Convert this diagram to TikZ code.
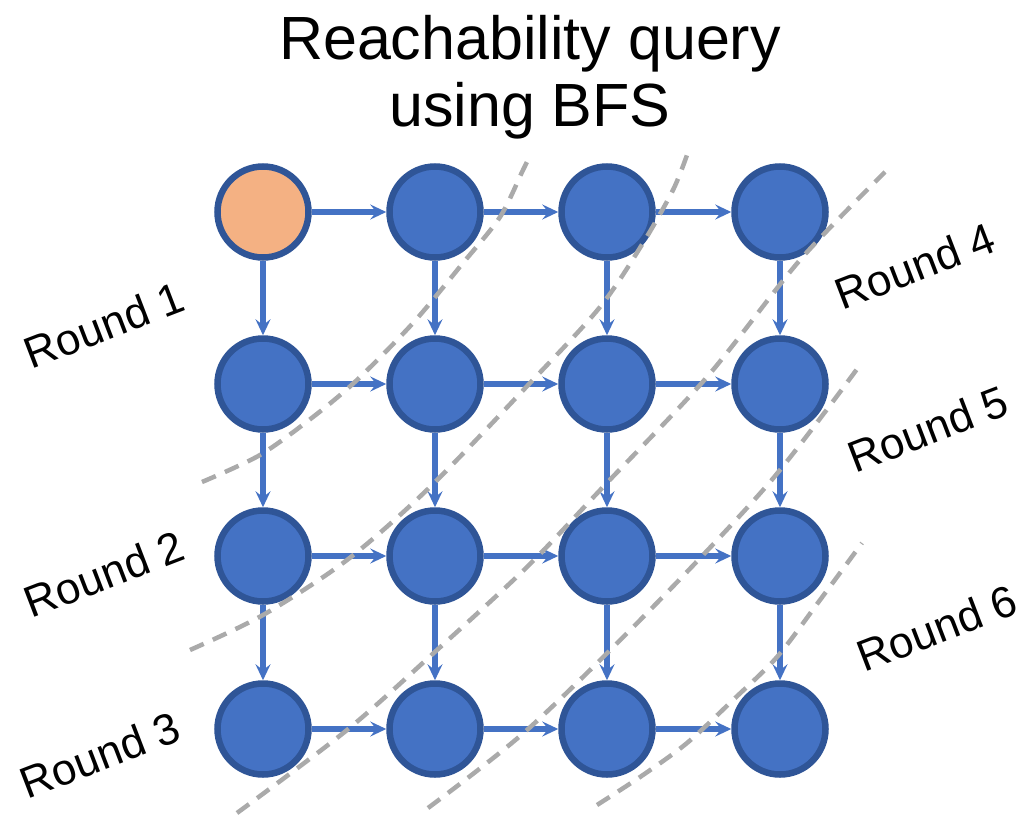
\documentclass[tikz,border=0pt]{standalone}
\usepackage{fontspec}
\setmainfont{Liberation Sans}
\usetikzlibrary{arrows.meta}
\definecolor{nodefill}{HTML}{4472C4}
\definecolor{nodeline}{HTML}{2F5597}
\definecolor{srcfill}{HTML}{F4B183}
\definecolor{edgecol}{HTML}{4472C4}
\definecolor{dashcol}{HTML}{AAAAAA}
\begin{document}
\begin{tikzpicture}[x=1pt,y=-1pt,
  vertex/.style={circle, draw=nodeline, fill=nodefill, line width=6.5pt, minimum size=91pt, inner sep=0pt},
  source/.style={vertex, fill=srcfill},
  edge/.style={draw=edgecol, line width=5.5pt, -{Stealth[length=16pt,width=15pt,inset=6pt]}},
  boundary/.style={draw=dashcol, line width=4.5pt, dash pattern=on 15pt off 10pt},
  roundlabel/.style={font=\fontsize{44}{50}\selectfont, rotate=21, inner sep=0pt},
  titlelabel/.style={font=\fontsize{61}{67}\selectfont, align=center, inner sep=0pt}
]
\useasboundingbox (0,0) rectangle (1030,814);
\node[titlelabel] (title) at (530,77) {Reachability query\\using BFS};

% vertices
\foreach \r/\y in {1/212,2/384,3/556,4/729}{
  \foreach \c/\x in {1/263,2/435,3/607,4/780}{
    \ifnum\r\c=11
      \node[source] (n\r\c) at (\x,\y) {};
    \else
      \node[vertex] (n\r\c) at (\x,\y) {};
    \fi
  }
}

% edges
\foreach \r in {1,2,3,4}{
  \foreach \c/\d in {1/2,2/3,3/4}{
    \draw[edge] (n\r\c) -- (n\r\d);
  }
}
\foreach \r/\s in {1/2,2/3,3/4}{
  \foreach \c in {1,2,3,4}{
    \draw[edge] (n\r\c) -- (n\s\c);
  }
}

% round boundaries
\draw[boundary] plot[smooth] coordinates {(202,482) (260,455) (313,417) (357,380) (413,323) (463,263) (500,217) (523,170) (530,156)};
\draw[boundary] plot[smooth] coordinates {(190,650) (263,615) (347,560) (430,487) (530,383) (600,307) (643,243) (673,190) (687,155)};
\draw[boundary] plot[smooth] coordinates {(237,813) (347,730) (437,650) (527,567) (603,487) (707,377) (800,260) (885,172)};
\draw[boundary] plot[smooth] coordinates {(428,808) (527,730) (650,610) (770,482) (860,365)};
\draw[boundary] plot[smooth] coordinates {(597,805) (643,775) (687,743) (733,700) (777,657) (820,600) (862,543)};

% round labels
\node[roundlabel] (r1) at (104,325) {Round 1};
\node[roundlabel] (r2) at (104,574) {Round 2};
\node[roundlabel] (r3) at (100,755) {Round 3};
\node[roundlabel] (r4) at (915,266) {Round 4};
\node[roundlabel] (r5) at (928,429) {Round 5};
\node[roundlabel] (r6) at (937,628) {Round 6};
\end{tikzpicture}
\end{document}
